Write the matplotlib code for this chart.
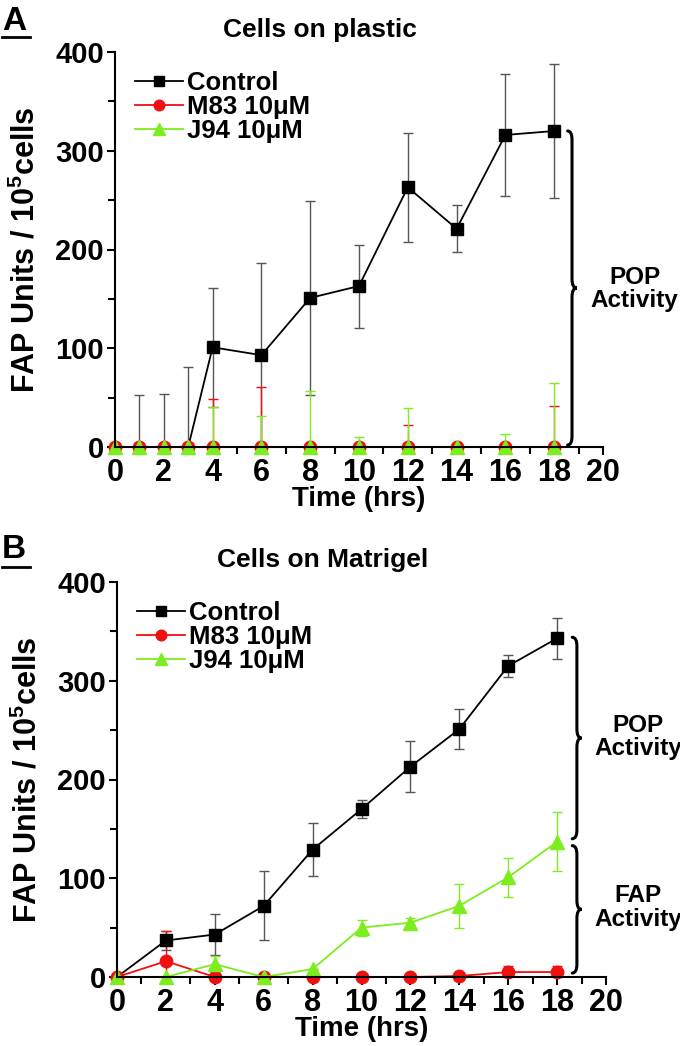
import matplotlib
matplotlib.use("Agg")
import matplotlib.pyplot as plt
from matplotlib.path import Path
from matplotlib.patches import PathPatch
import numpy as np

plt.rcParams['font.family'] = ['Liberation Sans', 'DejaVu Sans']
plt.rcParams['font.weight'] = 'bold'
plt.rcParams['mathtext.fontset'] = 'custom'
plt.rcParams['mathtext.rm'] = 'Liberation Sans:bold'
plt.rcParams['mathtext.bf'] = 'Liberation Sans:bold'

############# DATA ################
# panel A - cells on plastic
a_time = [0, 1, 2, 3, 4, 6, 8, 10, 12, 14, 16, 18]
a_control = [0, 0, 0, 0, 101, 93, 151, 163, 263, 221, 316, 320]
a_control_err = [0, 53, 54, 81, 60, 93, 98, 42, 55, 24, 62, 68]
a_m83 = [0, 0, 0, 0, 0, 0, 0, 0, 0, 0, 0, 0]
a_m83_err = [0, 0, 0, 0, 49, 61, 0, 0, 22, 0, 0, 42]
a_j94 = [0, 0, 0, 0, 0, 0, 0, 0, 0, 0, 0, 0]
a_j94_err = [0, 0, 0, 0, 41, 31, 57, 10, 39, 3, 13, 65]

# panel B - cells on matrigel
b_time = [0, 2, 4, 6, 8, 10, 12, 14, 16, 18]
b_control = [0, 37, 43, 72, 129, 170, 213, 251, 315, 343]
b_control_err = [0, 10, 21, 35, 27, 9, 26, 20, 11, 21]
b_m83 = [0, 16, 0, 0, 0, 0, 0, 1, 5, 5]
b_m83_err = [0, 31, 0, 0, 0, 0, 0, 1, 6, 6]
b_j94 = [0, 0, 13, 0, 8, 50, 55, 72, 101, 137]
b_j94_err = [0, 0, 8, 0, 0, 8, 5, 22, 20, 30]

labels = ["Control", "M83 10μM", "J94 10μM"]
titles = ["Cells on plastic", "Cells on Matrigel"]

# colours
BLACK = "#000000"
RED = "#f01010"
GREEN = "#7ded1f"

############# FIGURE ################
fig = plt.figure(figsize=(6.8, 10.46), dpi=100)
axA = fig.add_axes([115/680, 1-447/1046, 488/680, 395/1046])
axB = fig.add_axes([117/680, 1-977/1046, 489/680, 395/1046])


def draw_brace(ax, y0, y1, xs, r):
    # curly brace opening to the left, tip pointing right
    xl, xc, xr = xs
    ym = (y0 + y1) / 2
    verts = [(xl, y1), (xc, y1), (xc, y1 - r),
             (xc, ym + r),
             (xc, ym), (xr, ym),
             (xc, ym), (xc, ym - r),
             (xc, y0 + r),
             (xc, y0), (xl, y0)]
    codes = [Path.MOVETO, Path.CURVE3, Path.CURVE3,
             Path.LINETO,
             Path.CURVE3, Path.CURVE3,
             Path.CURVE3, Path.CURVE3,
             Path.LINETO,
             Path.CURVE3, Path.CURVE3]
    ax.add_patch(PathPatch(Path(verts, codes), fill=False, lw=2.2,
                           color="black", clip_on=False, capstyle="round"))


def panel(ax, t, series, errs, title):
    styles = [(BLACK, "s", 8, "#555555"), (RED, "o", 9, RED), (GREEN, "^", 9.5, GREEN)]
    handles = []
    for i, (y, e, (c, m, ms, ec), lab) in enumerate(zip(series, errs, styles, labels)):
        # control squares sitting on zero are hidden behind the other markers
        mk = [j for j, v in enumerate(y) if v > 0] if i == 0 else None
        line, caps, bars = ax.errorbar(t, y, yerr=e, color=c, marker=m, ms=ms,
                                       lw=1.3, ecolor=ec, elinewidth=1,
                                       capsize=3.8, capthick=1, label=lab,
                                       markevery=mk)
        line.set_clip_on(False)
        h, = ax.plot([], [], color=c, marker=m, ms=ms, lw=1.3)
        handles.append(h)
    ax.set_xlim(0, 20)
    ax.set_ylim(0, 400)
    ax.set_xticks(np.arange(0, 21, 2))
    ax.set_xticks(np.arange(1, 20, 2), minor=True)
    ax.set_yticks(np.arange(0, 401, 100))
    ax.set_yticks(np.arange(50, 400, 100), minor=True)
    for s in ["top", "right"]:
        ax.spines[s].set_visible(False)
    for s in ["left", "bottom"]:
        ax.spines[s].set_linewidth(1.5)
    ax.tick_params(which="major", length=6, width=1.5, pad=2)
    ax.tick_params(which="minor", length=5, width=1.5)
    ax.tick_params(axis="x", labelsize=22)
    ax.tick_params(axis="y", labelsize=21)
    ax.set_xlabel("Time (hrs)", fontsize=20, fontweight="bold")
    ax.xaxis.set_label_coords(0.5, -0.1)
    ax.set_ylabel(r"FAP Units / $\mathbf{10^5}$cells", fontsize=22, fontweight="bold")
    ax.yaxis.set_label_coords(-0.15, 0.5)
    ax.set_title(title, fontsize=19, fontweight="bold", x=0.42, pad=11)
    ax.legend(handles, labels, loc="upper left", bbox_to_anchor=(0.04, 0.951),
              frameon=False, fontsize=18.5, handlelength=1.9, handletextpad=0.15,
              labelspacing=0.0, borderpad=0, borderaxespad=0, markerscale=0.85)


panel(axA, a_time, [a_control, a_m83, a_j94], [a_control_err, a_m83_err, a_j94_err], titles[0])
panel(axB, b_time, [b_control, b_m83, b_j94], [b_control_err, b_m83_err, b_j94_err], titles[1])

# braces and annotations
draw_brace(axA, 2, 320, (18.55, 18.73, 18.93), 9)
axA.text(21.3, 160, "POP\nActivity", ha="center", va="center", fontsize=17.5,
         fontweight="bold", linespacing=1.05, clip_on=False)

draw_brace(axB, 140, 344, (18.62, 18.81, 19.0), 9)
draw_brace(axB, 4, 133, (18.62, 18.81, 19.0), 9)
axB.text(21.3, 243, "POP\nActivity", ha="center", va="center", fontsize=17.5,
         fontweight="bold", linespacing=1.05, clip_on=False)
axB.text(21.3, 70, "FAP\nActivity", ha="center", va="center", fontsize=17.5,
         fontweight="bold", linespacing=1.05, clip_on=False)

# panel letters with underline
fig.text(2/680, 1-30/1046, "A", fontsize=24, fontweight="bold", ha="left", va="baseline")
fig.add_artist(plt.Line2D([2/680, 30/680], [1-37/1046, 1-37/1046], color="black", lw=2))
fig.text(2/680, 1-558/1046, "B", fontsize=24, fontweight="bold", ha="left", va="baseline")
fig.add_artist(plt.Line2D([2/680, 30/680], [1-567/1046, 1-567/1046], color="black", lw=2))

fig.savefig("out.png", dpi=100)
